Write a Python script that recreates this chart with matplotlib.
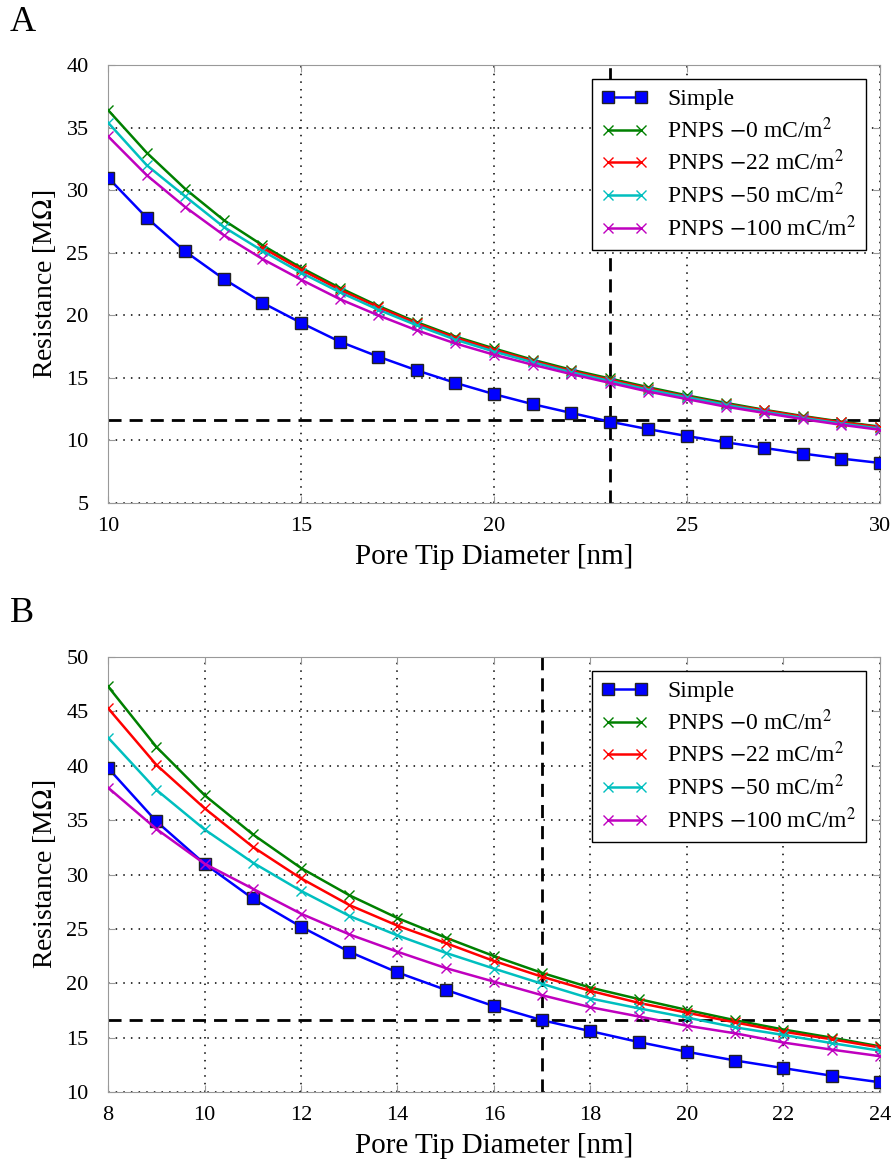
import numpy as np
import matplotlib
matplotlib.use("Agg")
import matplotlib.pyplot as plt

plt.rcParams["font.family"] = ["Liberation Serif", "DejaVu Serif"]
plt.rcParams["mathtext.fontset"] = "stix"

# Panel A data
xa = list(range(10, 31))
xa_red = list(range(14, 31))
simple_a = [31.0, 27.8, 25.1, 22.9, 21.0, 19.4, 17.9, 16.7, 15.6, 14.6, 13.7,
            12.9, 12.2, 11.5, 10.9, 10.35, 9.85, 9.4, 8.95, 8.55, 8.2]
pnps0_a = [36.4, 33.0, 30.1, 27.6, 25.6, 23.8, 22.2, 20.75, 19.45, 18.3, 17.35,
           16.45, 15.65, 14.95, 14.25, 13.6, 13.0, 12.45, 11.95, 11.5, 11.1]
pnps22_a = [25.4, 23.65, 22.05, 20.65, 19.35, 18.2, 17.25, 16.35, 15.55, 14.85,
            14.15, 13.5, 12.9, 12.4, 11.9, 11.45, 11.05]
pnps50_a = [35.4, 32.0, 29.5, 27.05, 25.15, 23.4, 21.85, 20.45, 19.2, 18.05, 17.1,
            16.25, 15.45, 14.75, 14.05, 13.45, 12.85, 12.3, 11.8, 11.35, 10.95]
pnps100_a = [34.3, 31.2, 28.65, 26.4, 24.5, 22.85, 21.3, 20.0, 18.8, 17.75, 16.85,
             16.05, 15.3, 14.6, 13.9, 13.3, 12.7, 12.2, 11.7, 11.25, 10.85]
mark_a = (23, 11.6)

# Panel B data
xb = list(range(8, 25))
simple_b = [39.8, 34.9, 31.0, 27.8, 25.2, 22.9, 21.0, 19.4, 17.9, 16.6, 15.6,
            14.6, 13.7, 12.9, 12.2, 11.5, 10.9]
pnps0_b = [47.3, 41.75, 37.3, 33.7, 30.6, 28.1, 26.0, 24.2, 22.5, 20.95, 19.6,
           18.55, 17.55, 16.6, 15.75, 15.0, 14.2]
pnps22_b = [45.3, 40.1, 36.1, 32.55, 29.65, 27.2, 25.3, 23.7, 22.05, 20.6, 19.3,
            18.2, 17.3, 16.4, 15.55, 14.85, 14.1]
pnps50_b = [42.6, 37.8, 34.15, 31.1, 28.5, 26.2, 24.4, 22.8, 21.35, 19.95, 18.6,
            17.7, 16.85, 15.95, 15.25, 14.5, 13.8]
pnps100_b = [38.0, 34.2, 31.0, 28.7, 26.4, 24.5, 22.9, 21.4, 20.15, 18.9, 17.8,
             16.95, 16.1, 15.4, 14.55, 13.9, 13.3]
mark_b = (17, 16.6)

labels = ["Simple", r"PNPS $-$0 mC/m$^2$", r"PNPS $-$22 mC/m$^2$",
          r"PNPS $-$50 mC/m$^2$", r"PNPS $-$100 mC/m$^2$"]
colors = ["#0000ff", "#008000", "#ff0000", "#00bfbf", "#bf00bf"]


def draw(ax, x, simple, curves, mark, xlim, ylim, xticks, yticks):
    ax.plot(x, simple, color=colors[0], lw=1.8, marker="s", ms=8,
            mfc=colors[0], mec="#222222", mew=1.0, label=labels[0], zorder=3)
    for (cx, cy), c, lab in zip(curves, colors[1:], labels[1:]):
        ax.plot(cx, cy, color=c, lw=1.8, marker="x", ms=7.5, mew=1.0,
                label=lab, zorder=3)
    ax.axvline(mark[0], color="black", ls=(0, (4.7, 2.9)), lw=2.0, zorder=2)
    ax.axhline(mark[1], color="black", ls=(0, (4.7, 2.9)), lw=2.0, zorder=2)
    ax.set_xlim(*xlim)
    ax.set_ylim(*ylim)
    ax.set_xticks(xticks)
    ax.set_yticks(yticks)
    ax.grid(True, color="black", ls=(0, (1, 4)), lw=1.1)
    ax.tick_params(direction="in", top=True, right=True, length=5,
                   color="#999999", labelsize=16)
    ax.tick_params(axis="x", pad=10)
    ax.tick_params(axis="y", pad=14)
    for s in ax.spines.values():
        s.set_color("#999999")
    ax.set_xlabel("Pore Tip Diameter [nm]", fontsize=21, labelpad=6)
    ax.set_ylabel(r"Resistance [M$\Omega$]", fontsize=20, labelpad=6)
    leg = ax.legend(loc="upper right", fontsize=17, fancybox=False,
                    framealpha=1, edgecolor="black", borderaxespad=0.6,
                    handlelength=2.0, labelspacing=0.3, borderpad=0.4,
                    numpoints=2)
    leg.get_frame().set_linewidth(1.0)


fig = plt.figure(figsize=(8.92, 11.75), dpi=100)
ax_a = fig.add_axes([0.1211, 0.5719, 0.8654, 0.3728])
ax_b = fig.add_axes([0.1211, 0.0706, 0.8654, 0.3702])

draw(ax_a, xa, simple_a,
     [(xa, pnps0_a), (xa_red, pnps22_a), (xa, pnps50_a), (xa, pnps100_a)],
     mark_a, (10, 30), (5, 40), range(10, 31, 5), range(5, 41, 5))
draw(ax_b, xb, simple_b,
     [(xb, pnps0_b), (xb, pnps22_b), (xb, pnps50_b), (xb, pnps100_b)],
     mark_b, (8, 24), (10, 50), range(8, 25, 2), range(10, 51, 5))

fig.text(0.011, 0.995, "A", fontsize=26, va="top", ha="left")
fig.text(0.011, 0.492, "B", fontsize=26, va="top", ha="left")

fig.savefig("out.png", dpi=100)
